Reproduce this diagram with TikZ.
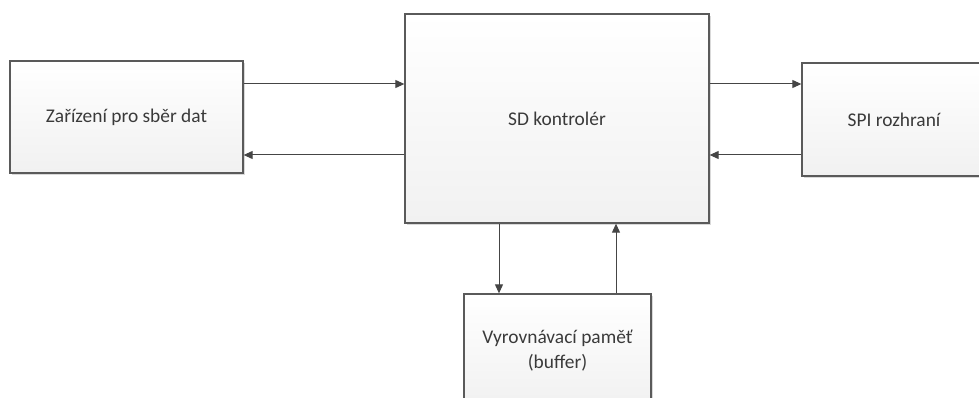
\documentclass[tikz,border=0pt]{standalone}
\usepackage{fontspec}
\setmainfont{Carlito}
\usetikzlibrary{arrows.meta,shadows}
\definecolor{boxline}{HTML}{5A5A5A}
\definecolor{arrowcol}{HTML}{454545}
\definecolor{txt}{HTML}{3A3A3A}
\definecolor{fillbot}{HTML}{F1F1F1}
\tikzset{
  blk/.style={draw=boxline, line width=1.3pt, shading=axis, top color=white, bottom color=fillbot,
    text=txt, font=\fontsize{19.4}{25}\selectfont, align=center, inner sep=0pt,
    drop shadow={shadow xshift=1.6pt, shadow yshift=-1.6pt, fill=black, opacity=0.15}},
  arr/.style={draw=arrowcol, line width=1pt, -{Triangle[length=9pt,width=8pt]}}
}
\begin{document}
\begin{tikzpicture}[x=1pt,y=-1pt]
\useasboundingbox (0,0) rectangle (979,398);
\clip (0,0) rectangle (979,398);
\node[blk, minimum width=233pt, minimum height=112pt] (L) at (126.5,117) {Zařízení pro sběr dat};
\node[blk, minimum width=304pt, minimum height=209pt] (C) at (557,118.5) {SD kontrolér};
\node[blk, minimum width=184pt, minimum height=113pt] (R) at (894,119.5) {SPI rozhraní};
\node[blk, minimum width=187pt, minimum height=113pt] (B) at (557.5,350.5) {Vyrovnávací paměť\\(buffer)};
\draw[arr] (L.east |- 0,84) -- (C.west |- 0,84);
\draw[arr] (C.west |- 0,155) -- (L.east |- 0,155);
\draw[arr] (C.east |- 0,84) -- (R.west |- 0,84);
\draw[arr] (R.west |- 0,155) -- (C.east |- 0,155);
\draw[arr] (C.south -| 499,0) -- (B.north -| 499,0);
\draw[arr] (B.north -| 616,0) -- (C.south -| 616,0);
\end{tikzpicture}
\end{document}
